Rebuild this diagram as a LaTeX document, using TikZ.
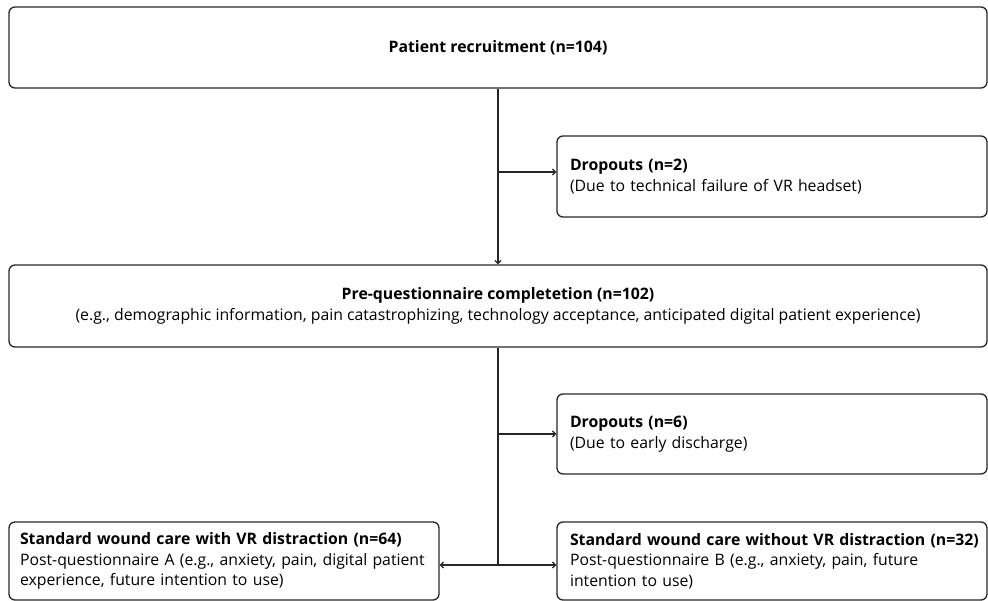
\documentclass[tikz,border=0pt]{standalone}
\usepackage{fontspec}
\setmainfont{Open Sans}
\usetikzlibrary{arrows.meta}
\begin{document}
\begin{tikzpicture}[x=1pt,y=-1pt,
  every node/.style={font=\fontsize{15.8pt}{20.5pt}\selectfont},
  box/.style={draw=black!85, line width=1.3pt, rounded corners=6pt, inner sep=0pt},
  widebox/.style={box, minimum width=978pt, minimum height=81pt, align=center},
  sidebox/.style={box, minimum width=430pt, text width=404pt, inner xsep=13pt, align=left},
  link/.style={draw=black!85, line width=1.3pt},
  arr/.style={link, -{Straight Barb[length=3pt,width=6pt]}}]
\useasboundingbox (0,0) rectangle (988,601);

\node[widebox] (rec) at (498,47.5) {\textbf{Patient recruitment (n=104)}};
\node[sidebox, minimum height=81pt] (d1) at (772,176.5)
  {\textbf{Dropouts (n=2)}\\(Due to technical failure of VR headset)};
\node[widebox, minimum height=82pt] (pre) at (498,306)
  {\textbf{Pre-questionnaire completetion (n=102)}\\(e.g., demographic information, pain catastrophizing, technology acceptance, anticipated digital patient experience)};
\node[sidebox, minimum height=80pt] (d2) at (772,434)
  {\textbf{Dropouts (n=6)}\\(Due to early discharge)};
\node[sidebox, minimum height=78pt, text width=408pt, inner xsep=11pt] (va) at (224,561)
  {\textbf{Standard wound care with VR distraction (n=64)}\\Post-questionnaire A (e.g., anxiety, pain, digital patient\\experience, future intention to use)};
\node[sidebox, minimum height=78pt] (vb) at (772,561)
  {\rlap{\textbf{Standard wound care without VR distraction (n=32)}}\\Post-questionnaire B (e.g., anxiety, pain, future\\intention to use)};

% main flow
\draw[arr] (rec.south) -- (pre.north);
\draw[arr] ([yshift=4.5pt]d1.west -| rec.south) -- ([yshift=4.5pt]d1.west);
\coordinate (split) at (pre.south |- 0,565);
\draw[link] (pre.south) -- (split);
\draw[arr] (d2.west -| pre.south) -- (d2.west);
\draw[arr] (split) -- (va.east |- split);
\draw[arr] (split) -- (vb.west |- split);
\end{tikzpicture}
\end{document}
